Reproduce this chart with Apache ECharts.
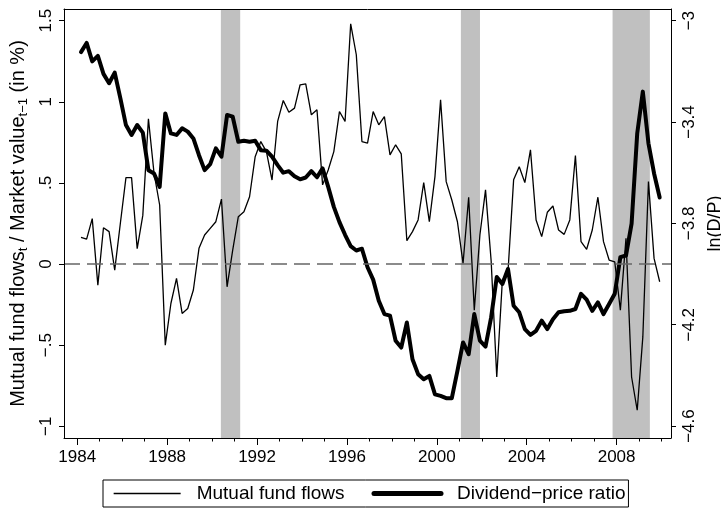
<!DOCTYPE html>
<html>
<head>
<meta charset="utf-8">
<script src="https://cdn.jsdelivr.net/npm/echarts@6/dist/echarts.min.js"></script>
<style>
  html, body { margin: 0; padding: 0; background: #fff; }
  #chart { width: 721px; height: 515px; }
</style>
</head>
<body>
<div id="chart"></div>
<script>
// quarterly data, 1984q1 - 2009q4
const firstYear = 1984;
const lastYear = 2009;

// mutual fund flows_t / market value_t-1 (in %)
const flows = [
  0.165, 0.154, 0.28, -0.13, 0.224, 0.2, -0.037, 0.25,
  0.533, 0.533, 0.095, 0.3, 0.895, 0.56, 0.364, -0.5,
  -0.243, -0.088, -0.304, -0.274, -0.16, 0.097, 0.179, 0.22,
  0.261, 0.4, -0.14, 0.086, 0.292, 0.323, 0.415, 0.662,
  0.755, 0.693, 0.518, 0.879, 1.008, 0.936, 0.961, 1.105,
  1.111, 0.92, 0.951, 0.488, 0.58, 0.693, 0.94, 0.879,
  1.481, 1.29, 0.755, 0.745, 0.94, 0.858, 0.909, 0.673,
  0.735, 0.679, 0.144, 0.2, 0.272, 0.502, 0.261, 0.539,
  1.012, 0.508, 0.395, 0.261, 0.004, 0.412, -0.284, 0.179,
  0.457, 0.02, -0.696, -0.099, -0.047, 0.519, 0.6, 0.502,
  0.704, 0.272, 0.169, 0.319, 0.358, 0.21, 0.183, 0.272,
  0.669, 0.138, 0.091, 0.21, 0.412, 0.138, 0.025, 0.014,
  -0.284, 0.159, -0.696, -0.901, -0.449, 0.508, 0.035, -0.109
];

// ln(D/P)
const divPrice = [
  -3.124, -3.088, -3.161, -3.139, -3.21, -3.247, -3.205, -3.306,
  -3.412, -3.451, -3.412, -3.442, -3.59, -3.603, -3.656, -3.366,
  -3.445, -3.451, -3.425, -3.438, -3.465, -3.531, -3.59, -3.566,
  -3.504, -3.537, -3.372, -3.379, -3.478, -3.474, -3.478, -3.474,
  -3.511, -3.513, -3.537, -3.57, -3.6, -3.594, -3.614, -3.626,
  -3.619, -3.594, -3.618, -3.583, -3.656, -3.735, -3.795, -3.845,
  -3.89, -3.907, -3.9, -3.973, -4.022, -4.105, -4.158, -4.164,
  -4.263, -4.29, -4.191, -4.336, -4.395, -4.415, -4.402, -4.475,
  -4.481, -4.49, -4.49, -4.382, -4.27, -4.316, -4.158, -4.263,
  -4.286, -4.171, -4.012, -4.039, -3.98, -4.125, -4.151, -4.217,
  -4.24, -4.224, -4.184, -4.217, -4.178, -4.151, -4.147, -4.145,
  -4.138, -4.078, -4.101, -4.145, -4.112, -4.158, -4.118, -4.078,
  -3.933, -3.927, -3.801, -3.445, -3.28, -3.484, -3.603, -3.698
];

// NBER recessions (shaded)
const recessions = [[1990.39, 1991.25], [2001.07, 2001.92], [2007.82, 2009.48]];

const yearTicks = [];
for (let y = 1984; y <= 2010; y++) yearTicks.push(y);
const yearLabels = [1984, 1988, 1992, 1996, 2000, 2004, 2008];

const leftTicks = [-1, -0.5, 0, 0.5, 1, 1.5];
const leftTickLabels = ["\u22121", "\u2212.5", "0", ".5", "1", "1.5"];
const rightTicks = [-4.6, -4.2, -3.8, -3.4, -3];
const rightTickLabels = ["\u22124.6", "\u22124.2", "\u22123.8", "\u22123.4", "\u22123"];

// quarter dates (end month of quarter, in years)
const dates = [];
for (let y = firstYear; y <= lastYear; y++) {
  for (let q = 1; q <= 4; q++) dates.push(y + (3 * q - 1) / 12);
}

const font = "Liberation Sans, Arial, sans-serif";
const xMin = 1983.41, xMax = 2010.42;

function pickLabel(ticks, labels, v) {
  for (let i = 0; i < ticks.length; i++) {
    if (Math.abs(ticks[i] - v) < 1e-6) return labels[i];
  }
  return "";
}

const chart = echarts.init(document.getElementById("chart"), null, { renderer: "canvas" });

const baseX = {
  type: "value",
  min: xMin,
  max: xMax,
  splitLine: { show: false },
  z: 10,
};

const option = {
  animation: false,
  backgroundColor: "#fff",
  textStyle: { fontFamily: font, color: "#000" },
  grid: {
    left: 64, right: 50, top: 9, bottom: 77,
    show: false,
    containLabel: false,
    outerBoundsMode: "none",
  },
  legend: {
    data: [
      { name: "Mutual fund flows", lineStyle: { width: 1.3, color: "#000" } },
      { name: "Dividend\u2212price ratio", lineStyle: { width: 5, color: "#000" } },
    ],
    left: 103,
    top: 480,
    padding: [4, 3, 4, 10],
    itemWidth: 67,
    itemHeight: 14,
    itemGap: 27,
    borderColor: "#000",
    borderWidth: 1,
    borderRadius: 0,
    selectedMode: false,
    itemStyle: { color: "rgba(0,0,0,0)", borderWidth: 0, opacity: 0 },
    textStyle: { fontSize: 19, color: "#000", fontFamily: font, padding: [0, 0, 0, 11] },
  },
  xAxis: [
    Object.assign({}, baseX, {
      position: "bottom",
      axisLine: { show: true, onZero: false, lineStyle: { color: "#000", width: 1 } },
      axisTick: { show: true, length: 3.5, customValues: yearTicks, lineStyle: { color: "#000", width: 1 } },
      axisLabel: {
        show: true, customValues: yearLabels, margin: 11,
        fontSize: 17, color: "#000", fontFamily: font,
        formatter: (v) => String(Math.round(v)),
      },
    }),
    Object.assign({}, baseX, {
      position: "bottom",
      axisLine: { show: false, onZero: false },
      axisTick: { show: true, length: 7, customValues: yearLabels, lineStyle: { color: "#000", width: 1 } },
      axisLabel: { show: false },
    }),
    Object.assign({}, baseX, {
      position: "top",
      axisLine: { show: true, onZero: false, lineStyle: { color: "#000", width: 1 } },
      axisTick: { show: false },
      axisLabel: { show: false },
    }),
  ],
  yAxis: [
    {
      type: "value",
      position: "left",
      min: -1.072,
      max: 1.572,
      z: 10,
      splitLine: { show: false },
      axisLine: { show: true, lineStyle: { color: "#000", width: 1 } },
      axisTick: { show: true, length: 5, customValues: leftTicks, lineStyle: { color: "#000" } },
      axisLabel: {
        customValues: leftTicks, rotate: 90, margin: 9,
        fontSize: 17, color: "#000", fontFamily: font,
        formatter: (v) => pickLabel(leftTicks, leftTickLabels, v),
      },
      name: "{m|Mutual fund flows}{s|t}{m| / Market value}{s|t\u22121}{m| (in %)}",
      nameLocation: "middle",
      nameRotate: 90,
      nameGap: 28,
      nameTextStyle: {
        fontFamily: font, color: "#000", fontSize: 20,
        rich: {
          m: { fontSize: 20, lineHeight: 24, verticalAlign: "middle", fontFamily: font, color: "#000" },
          s: { fontSize: 13, lineHeight: 13, verticalAlign: "bottom", fontFamily: font, color: "#000" },
        },
      },
    },
    {
      type: "value",
      position: "right",
      min: -4.647,
      max: -2.954,
      z: 10,
      splitLine: { show: false },
      axisLine: { show: true, lineStyle: { color: "#000", width: 1 } },
      axisTick: { show: true, length: 5, customValues: rightTicks, lineStyle: { color: "#000" } },
      axisLabel: {
        customValues: rightTicks, rotate: 90, margin: 10,
        fontSize: 17, color: "#000", fontFamily: font,
        formatter: (v) => pickLabel(rightTicks, rightTickLabels, v),
      },
      name: "ln(D/P)",
      nameLocation: "middle",
      nameRotate: 90,
      nameGap: 18,
      nameTextStyle: { fontFamily: font, color: "#000", fontSize: 18 },
    },
  ],
  series: [
    {
      name: "recessions",
      type: "line",
      xAxisIndex: 0,
      yAxisIndex: 0,
      data: [],
      z: 1,
      markArea: {
        silent: true,
        itemStyle: { color: "#c0c0c0" },
        data: recessions.map((r) => [{ xAxis: r[0] }, { xAxis: r[1] }]),
      },
    },
    {
      name: "Mutual fund flows",
      type: "line",
      xAxisIndex: 0,
      yAxisIndex: 0,
      data: dates.map((d, i) => [d, flows[i]]),
      symbol: "none",
      z: 3,
      lineStyle: { color: "#000", width: 1.3 },
      itemStyle: { color: "#000" },
      markLine: {
        silent: true,
        symbol: "none",
        label: { show: false },
        lineStyle: { color: "#666", type: [16, 7], width: 1.5 },
        data: [{ yAxis: 0 }],
      },
    },
    {
      name: "Dividend\u2212price ratio",
      type: "line",
      xAxisIndex: 0,
      yAxisIndex: 1,
      data: dates.map((d, i) => [d, divPrice[i]]),
      symbol: "none",
      z: 4,
      lineStyle: { color: "#000", width: 4, join: "round", cap: "round" },
      itemStyle: { color: "#000" },
    },
  ],
};

chart.setOption(option);
</script>
</body>
</html>
